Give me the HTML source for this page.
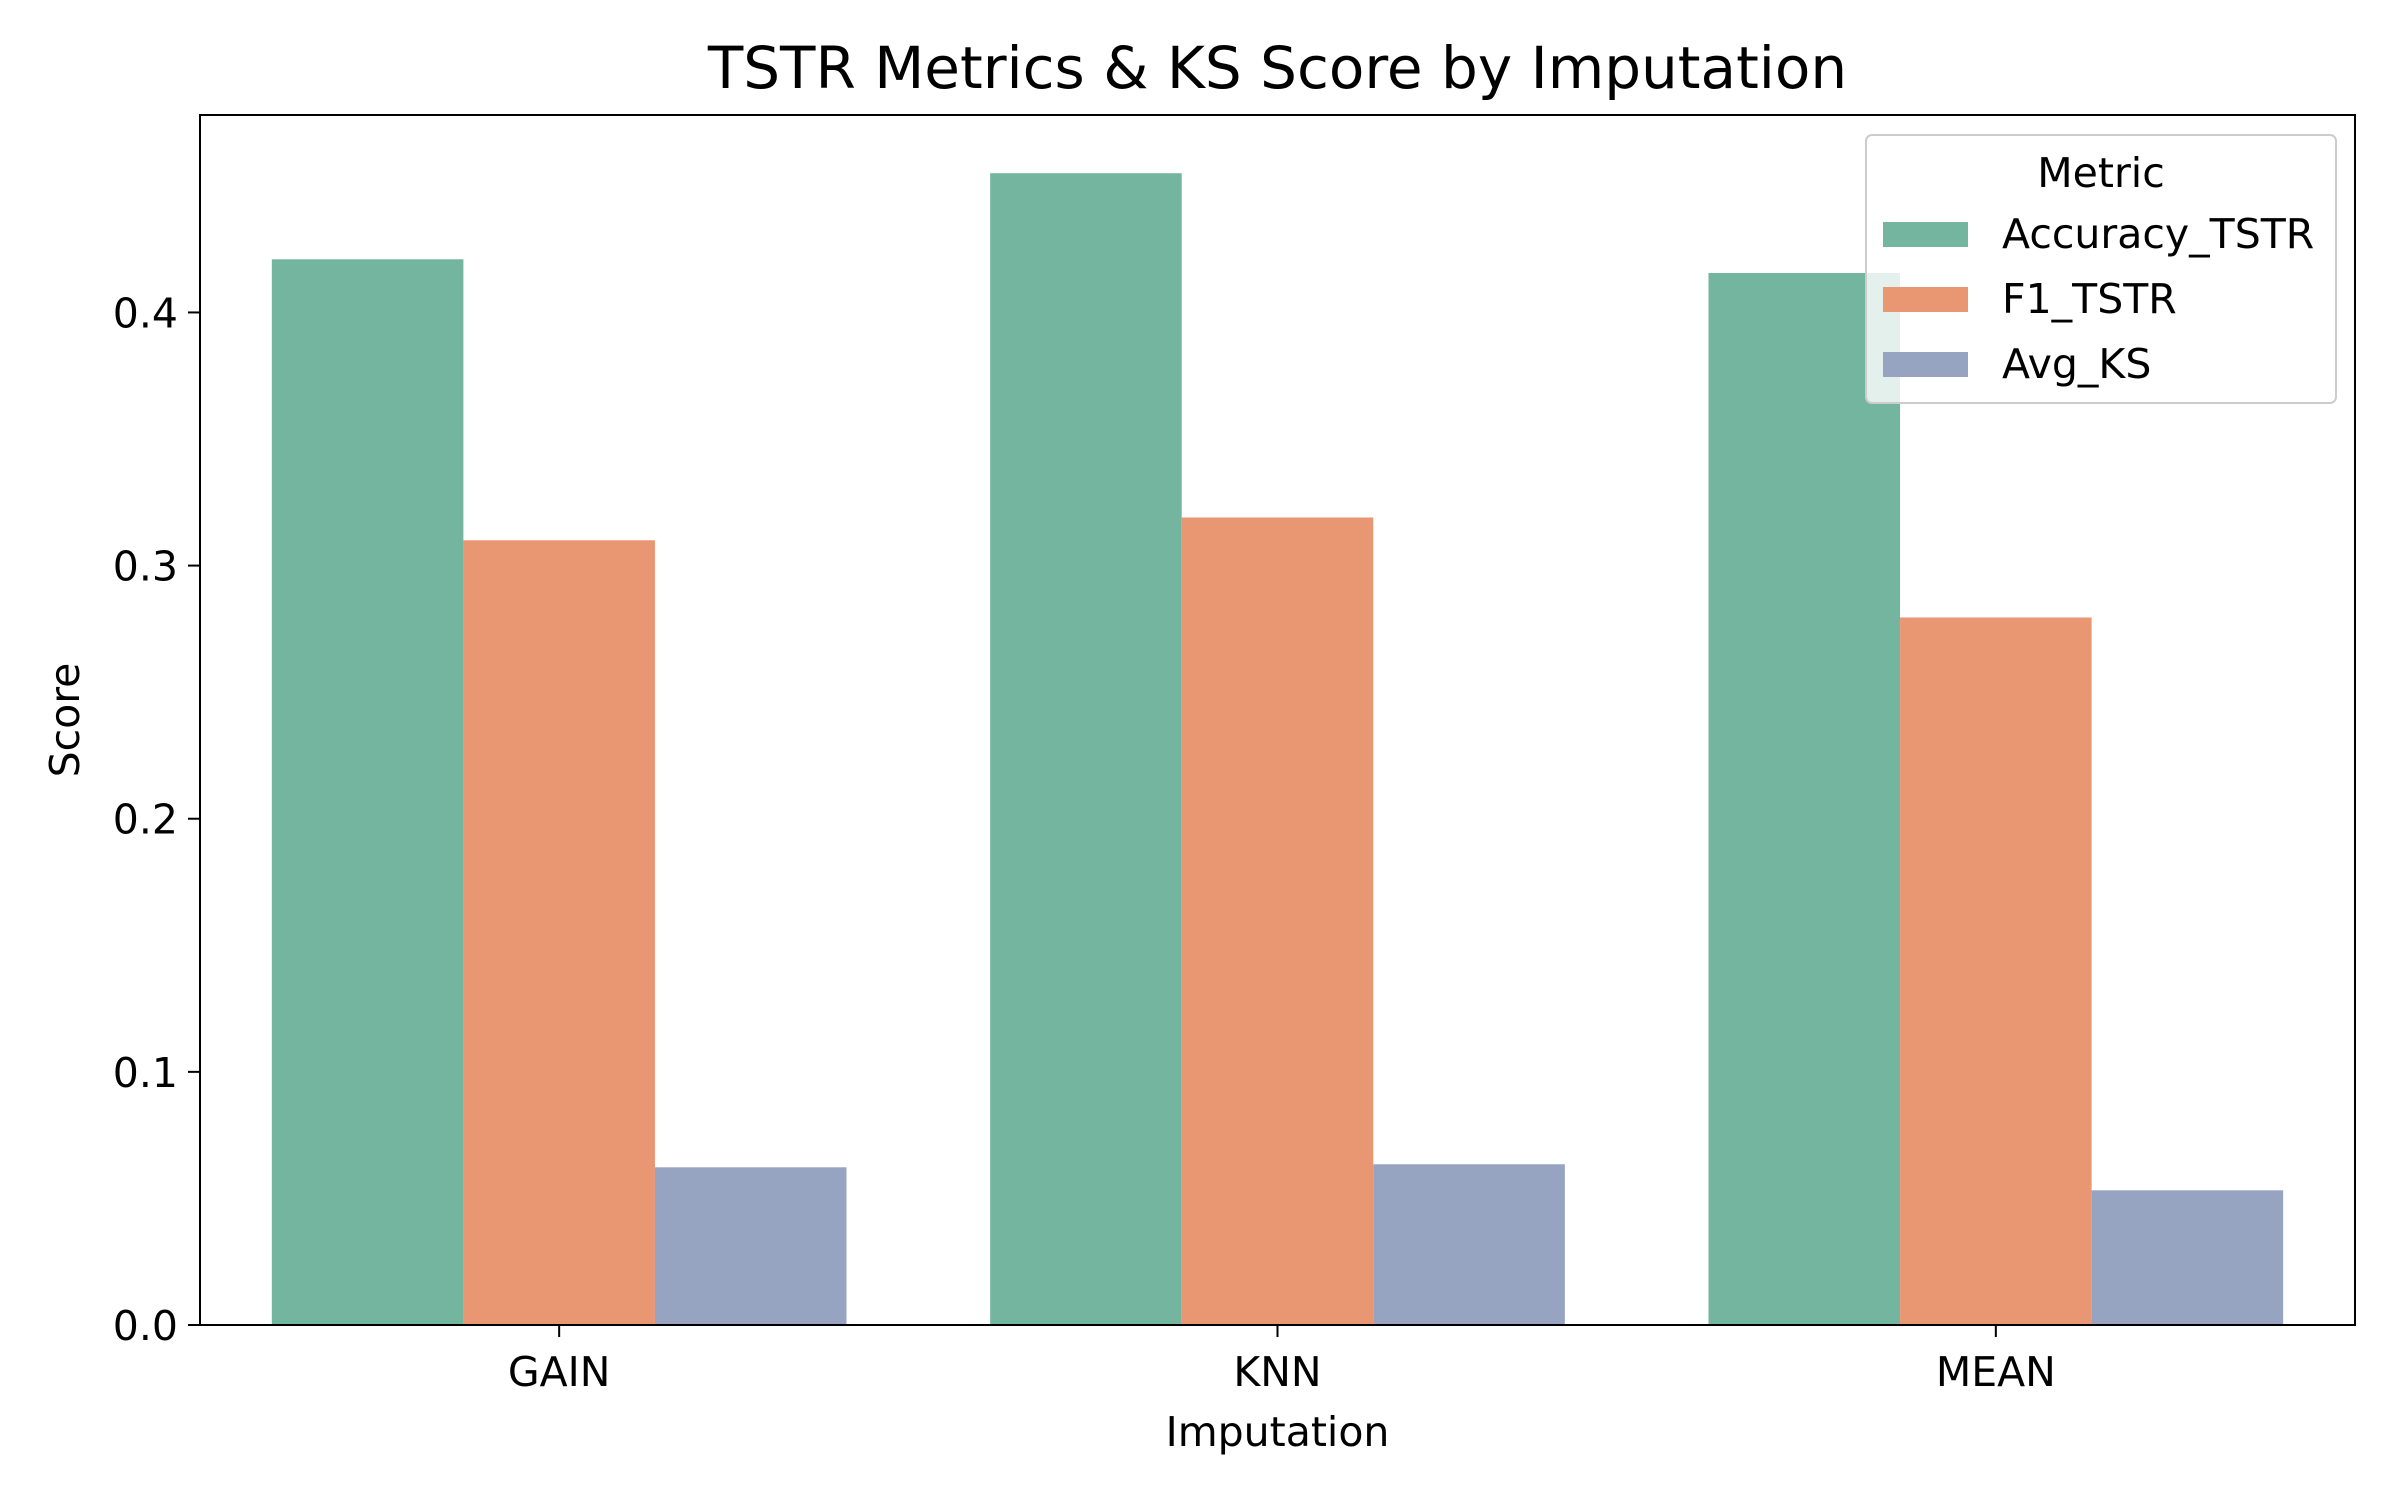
<!DOCTYPE html>
<html><head><meta charset="utf-8"><style>
body{margin:0;background:#fff;}
svg{display:block;font-family:"DejaVu Sans","Liberation Sans",sans-serif;}
</style></head><body>
<svg id="chart" width="2400" height="1500" viewBox="0 0 2400 1500"></svg>
<script>
const categories = ["GAIN","KNN","MEAN"];
const seriesNames = ["Accuracy_TSTR","F1_TSTR","Avg_KS"];
const accuracyValues = [0.421,0.455,0.4156];
const f1Values = [0.310,0.319,0.2795];
const ksValues = [0.0623,0.0635,0.0532];
const yTicks = [0.0,0.1,0.2,0.3,0.4];
const colors = ["#73b59f","#e99673","#96a4c2"];

const L=200,R=2355,T=115,B=1325,yMax=0.478;
const ns="http://www.w3.org/2000/svg";
const svg=document.getElementById('chart');
function y(v){return B-(v/yMax)*(B-T);}
function xc(i){return L+(i+0.5)*(R-L)/3;}
const step=(R-L)/3, bw=step*0.8/3;
function mk(tag,attrs,text){const e=document.createElementNS(ns,tag);for(const k in attrs)e.setAttribute(k,attrs[k]);if(text!==undefined)e.textContent=text;svg.appendChild(e);return e;}

const series=[accuracyValues,f1Values,ksValues];
series.forEach((vals,s)=>{vals.forEach((v,i)=>{
  const x=xc(i)-1.5*bw+s*bw;
  const r=mk('rect',{x:x,y:y(v),width:bw,height:y(0)-y(v),fill:colors[s]});
  
  
});});

const frame=mk('rect',{x:L,y:T,width:R-L,height:B-T,fill:'none',stroke:'#000','stroke-width':2});



yTicks.forEach(t=>{
  const l=mk('line',{x1:L-12,x2:L,y1:y(t),y2:y(t),stroke:'#000','stroke-width':2});
  
  
  const tx=mk('text',{x:L-22,y:y(t)+15,'text-anchor':'end','font-size':41},t.toFixed(1));
  
  
});
categories.forEach((c,i)=>{
  const l=mk('line',{x1:xc(i),x2:xc(i),y1:B,y2:B+12,stroke:'#000','stroke-width':2});
  
  
  const tx=mk('text',{x:xc(i),y:1386,'text-anchor':'middle','font-size':41},c);
  
  
});

const title=mk('text',{x:(L+R)/2,y:88,'text-anchor':'middle','font-size':58},'TSTR Metrics & KS Score by Imputation');


const xt=mk('text',{x:(L+R)/2,y:1446,'text-anchor':'middle','font-size':41},'Imputation');


const yt=mk('text',{x:79,y:(T+B)/2,'text-anchor':'middle','font-size':41,transform:'rotate(-90 79 '+((T+B)/2)+')'},'Score');



const lg=mk('rect',{x:1866,y:135,width:470,height:268,rx:6,fill:'#fff','fill-opacity':0.8,stroke:'#ccc','stroke-width':2});


const lt=mk('text',{x:2101,y:187,'text-anchor':'middle','font-size':41},'Metric');


seriesNames.forEach((n,s)=>{
  const cy=234+s*65;
  const p=mk('rect',{x:1883,y:cy-12,width:85,height:25,fill:colors[s]});
  
  
  const t=mk('text',{x:2002,y:cy+14,'font-size':41},n);
  
  
});
</script>
</body></html>
